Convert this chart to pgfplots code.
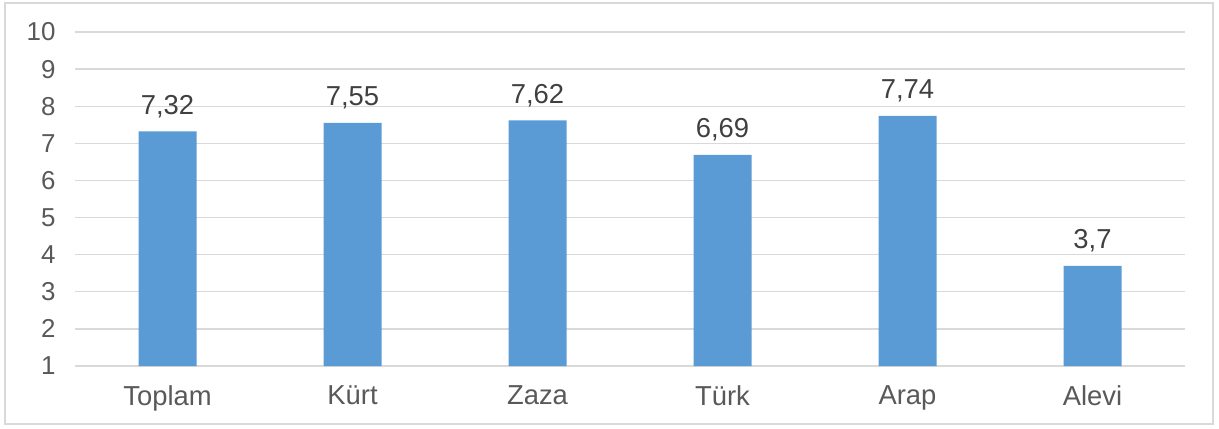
\documentclass[border=0pt]{standalone}
\usepackage{pgfplots}
\pgfplotsset{compat=1.18}
\usepackage{fontspec}
\setmainfont{Liberation Sans}
\definecolor{barblue}{HTML}{5B9BD5}
\definecolor{gridgray}{HTML}{D9D9D9}
\definecolor{txt}{HTML}{595959}
\definecolor{dtxt}{HTML}{404040}
\begin{document}
\begin{tikzpicture}[x=1bp,y=1bp]
\begin{axis}[
  scale only axis,
  width=1110bp, height=334bp,
  xmin=-0.5, xmax=5.5,
  ymin=1, ymax=10,
  ytick={1,2,...,10},
  xtick={0,1,2,3,4,5},
  xticklabels={Toplam,Kürt,Zaza,Türk,Arap,Alevi},
  major tick length=0pt,
  ymajorgrids,
  grid style={gridgray, line width=1.3bp},
  axis line style={draw=none},
  axis x line*=bottom,
  axis y line*=left,
  tick label style={text=txt},
  yticklabel style={font=\fontsize{26}{30}\selectfont, xshift=-16bp},
  xticklabel style={font=\fontsize{27.5}{32}\selectfont, yshift=-16bp},
  /pgf/number format/assume math mode=true,
  ybar, bar width=58bp,
  nodes near coords,
  nodes near coords style={font=\fontsize{27.5}{32}\selectfont, text=dtxt, /pgf/number format/use comma, /pgf/number format/assume math mode=true, yshift=10bp},
  clip=false,
]
\addplot[fill=barblue, draw=none] coordinates {(0,7.32) (1,7.55) (2,7.62) (3,6.69) (4,7.74) (5,3.7)};
\coordinate (ll) at (rel axis cs:0,0);
\coordinate (ur) at (rel axis cs:1,1);
\end{axis}
\useasboundingbox ([xshift=-75bp,yshift=-62bp]ll) rectangle ([xshift=34bp,yshift=32bp]ur);
\draw[gridgray, line width=1.3bp] ([xshift=-70bp,yshift=-58bp]ll) rectangle ([xshift=28bp,yshift=29bp]ur);
\end{tikzpicture}
\end{document}
